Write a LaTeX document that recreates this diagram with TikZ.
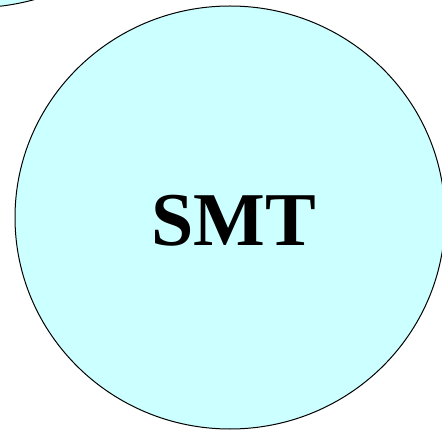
\documentclass[tikz,border=0pt]{standalone}
\usepackage{fontspec}
\setmainfont{Liberation Serif}
\definecolor{lightcyan}{HTML}{CCFFFF}
\tikzset{
  bubble/.style={ellipse, draw=black, fill=lightcyan, line width=1pt, inner sep=0pt},
}
\usetikzlibrary{shapes.geometric}
\begin{document}
\begin{tikzpicture}[x=1pt,y=-1pt]
\useasboundingbox (0,0) rectangle (442,430);
\clip (0,0) rectangle (442,430);
\node[bubble, minimum width=320pt, minimum height=200pt] (other) at (-30,-92) {};
\node[bubble, minimum width=430pt, minimum height=423pt] (smt) at (230,217.5) {};
\node[font=\fontsize{76}{80}\selectfont\bfseries] (label) at (234,221) {SMT};
\end{tikzpicture}
\end{document}
